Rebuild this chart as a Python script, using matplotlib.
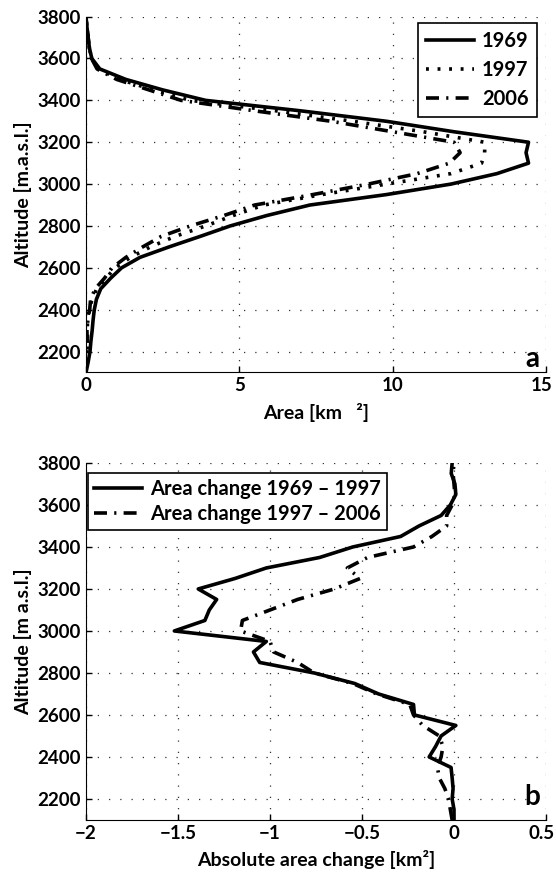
#!/usr/bin/env python3
import numpy as np
import matplotlib
matplotlib.use("Agg")
import matplotlib.pyplot as plt
from matplotlib.transforms import ScaledTranslation

plt.rcParams['font.family'] = ['Lato', 'DejaVu Sans']
plt.rcParams['font.weight'] = 'bold'
plt.rcParams['axes.labelweight'] = 'bold'

# altitude bands (m a.s.l.), 50 m steps
altitude = np.arange(2100, 3801, 50)

# glacier area per band [km2]
area_1969 = [0.0, 0.07, 0.13, 0.16, 0.2, 0.23, 0.27, 0.34, 0.48, 0.8,
             1.16, 1.76, 2.71, 3.72, 4.7, 5.9, 7.3, 9.8, 11.9, 13.4,
             14.43, 14.35, 14.43, 12.0, 9.8, 7.0, 3.9, 2.5, 1.3, 0.45,
             0.19, 0.11, 0.07, 0.03, 0.0]
area_1997 = [0.0, 0.02, 0.04, 0.05, 0.04, 0.05, 0.1, 0.2, 0.35, 0.65,
             0.95, 1.45, 2.1, 2.9, 3.9, 4.8, 5.8, 7.7, 9.8, 11.9,
             12.9, 13.0, 13.0, 11.0, 8.7, 6.2, 3.4, 2.2, 1.1, 0.4,
             0.18, 0.11, 0.07, 0.03, 0.0]
area_2006 = [0.0, 0.01, 0.03, 0.04, 0.03, 0.06, 0.12, 0.15, 0.3, 0.6,
             0.85, 1.3, 1.85, 2.45, 3.4, 4.5, 5.5, 7.4, 9.2, 10.8,
             11.85, 12.2, 12.0, 10.0, 8.0, 5.5, 3.1, 2.05, 1.0, 0.36,
             0.18, 0.11, 0.07, 0.03, 0.0]

# absolute area change per band [km2]
change_69_97 = [0.0, 0.0, -0.01, -0.005, -0.01, -0.016, -0.135, -0.1, -0.07, 0.01,
                -0.215, -0.22, -0.41, -0.54, -0.76, -1.056, -1.09, -1.02, -1.52, -1.354,
                -1.33, -1.29, -1.39, -1.19, -1.02, -0.73, -0.55, -0.29, -0.19, -0.07,
                -0.02, 0.01, 0.005, -0.015, -0.01]
change_97_06 = [-0.01, -0.02, -0.03, -0.05, -0.08, -0.09, -0.07, -0.06, -0.08, -0.17,
                -0.22, -0.24, -0.42, -0.55, -0.76, -0.85, -0.98, -1.0, -1.16, -1.15,
                -1.0, -0.85, -0.65, -0.51, -0.58, -0.47, -0.22, -0.12, -0.04, -0.04,
                -0.01, 0.005, 0.0, -0.005, 0.0]

LW = 2.6
dotted = (0, (0.8, 2.4))
dashdot = (0, (3.6, 2.0, 0.6, 2.0))
FS = 13.5


def style(ax):
    ax.grid(True, linestyle=(0, (1, 8)), color='0.2', linewidth=0.9)
    ax.spines['top'].set_visible(False)
    ax.spines['right'].set_visible(False)
    ax.tick_params(direction='in', length=4, labelsize=FS, width=1)
    ax.set_ylim(2100, 3800)
    ax.set_yticks(np.arange(2200, 3801, 200))
    for lab in ax.get_xticklabels() + ax.get_yticklabels():
        lab.set_fontweight('bold')
    # keep the last x tick label inside the figure
    last = ax.get_xticklabels()[-1]
    last.set_transform(last.get_transform() +
                       ScaledTranslation(-4 / 100, 0, ax.figure.dpi_scale_trans))


fig = plt.figure(figsize=(5.56, 8.75), dpi=100)

# panel a
ax1 = fig.add_axes([0.1547, 0.5743, 0.8273, 0.4067])
ax1.plot(area_1969, altitude, color='k', lw=LW, label='1969')
ax1.plot(area_1997, altitude, color='k', lw=LW, linestyle=dotted, label='1997')
ax1.plot(area_2006, altitude, color='k', lw=LW, linestyle=dashdot, label='2006')
ax1.set_xlim(0, 15)
ax1.set_xticks([0, 5, 10, 15])
style(ax1)
ax1.set_xlabel('Area [km   ²]', fontsize=FS + 0.5, labelpad=6)
ax1.set_ylabel('Altitude [m.a.s.l.]', fontsize=FS + 0.5, labelpad=4)
leg1 = ax1.legend(loc='upper right', bbox_to_anchor=(0.980, 0.982),
                  borderaxespad=0, fancybox=False, framealpha=1, edgecolor='k',
                  handlelength=2.4, borderpad=0.4, labelspacing=0.45,
                  handletextpad=0.4, prop={'weight': 'bold', 'size': 14.5})
leg1.get_frame().set_linewidth(1.2)
ax1.text(14.8, 2165, 'a', fontsize=20, ha='right', va='center')

# panel b
ax2 = fig.add_axes([0.1547, 0.0629, 0.8273, 0.408])
ax2.plot(change_69_97, altitude, color='k', lw=LW,
         label='Area change 1969 – 1997')
ax2.plot(change_97_06, altitude, color='k', lw=LW, linestyle=dashdot,
         label='Area change 1997 – 2006')
ax2.set_xlim(-2, 0.5)
ax2.set_xticks([-2, -1.5, -1, -0.5, 0, 0.5])
ax2.set_xticklabels(['\u22122', '\u22121.5', '\u22121', '\u22120.5', '0', '0.5'])
style(ax2)
ax2.set_xlabel('Absolute area change [km²]', fontsize=FS + 0.5, labelpad=6)
ax2.set_ylabel('Altitude [m a.s.l.]', fontsize=FS + 0.5, labelpad=4)
leg2 = ax2.legend(loc='upper left', bbox_to_anchor=(0.004, 0.972),
                  borderaxespad=0, fancybox=False, framealpha=1, edgecolor='k',
                  handlelength=2.4, borderpad=0.3, labelspacing=0.25,
                  handletextpad=0.4, prop={'weight': 'bold', 'size': 14.5})
leg2.get_frame().set_linewidth(1.2)
ax2.text(0.47, 2210, 'b', fontsize=20, ha='right', va='center')

fig.savefig('out.png', dpi=100)
